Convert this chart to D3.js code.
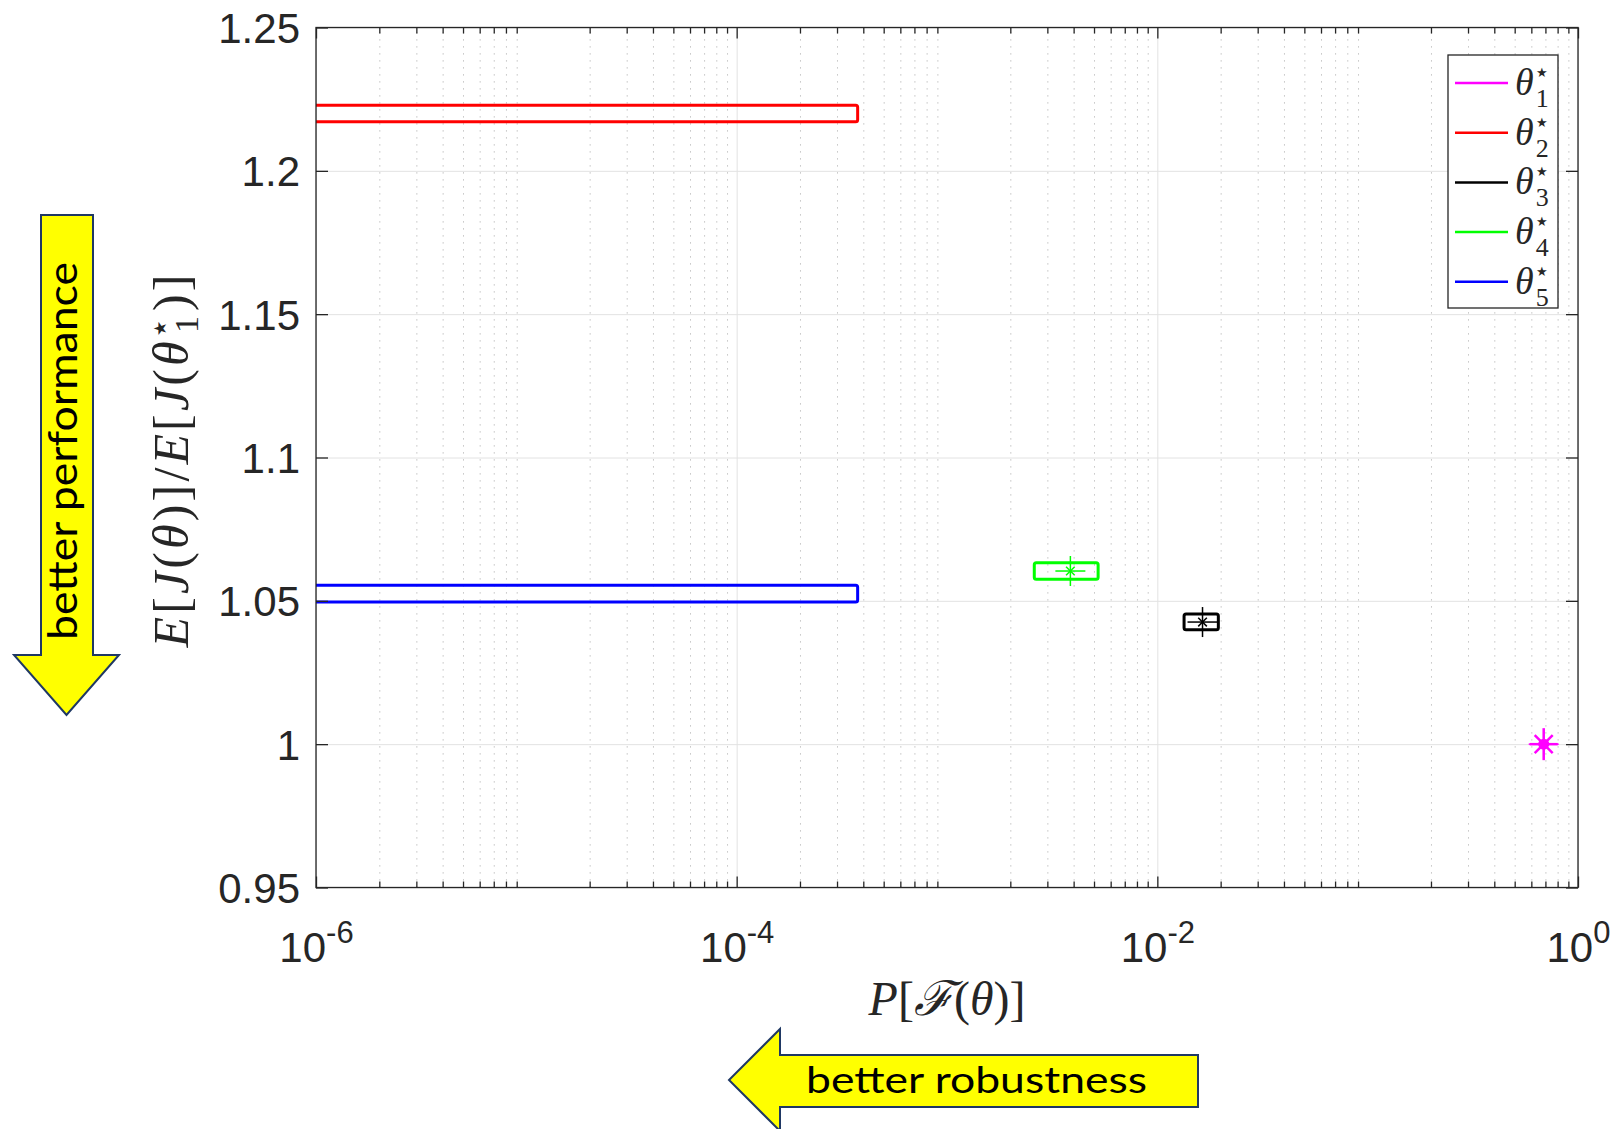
<!DOCTYPE html>
<meta charset="utf-8">
<style>
body { margin: 0; background: #fff; }
svg { font-family: 'Liberation Sans', Arial, sans-serif; background: #fff; }
.tick-label { font-size: 42px; fill: #262626; }
.grid-major line { stroke: #e2e2e2; stroke-width: 1; }
.grid-minor line { stroke: #b5b5b5; stroke-width: 1; stroke-dasharray: 1.2,5.8; }
.grid-major .domain, .grid-minor .domain { display: none; }
.ticks line { stroke: #262626; stroke-width: 1.3; }
.ticks .domain { display: none; }
.frame { fill: none; stroke: #262626; stroke-width: 1.3; }
.math { font-family: 'Liberation Serif', 'Times New Roman', serif; fill: #262626; }
.arrow { fill: #ffff00; stroke: #1f3864; stroke-width: 2; }
.arrow-text { font-family: Lato, 'Open Sans', sans-serif; fill: #000; }
</style>
<svg></svg>
<script src="https://d3js.org/d3.v7.min.js"></script>
<script>

// series: theta*_1 .. theta*_5
var seriesIds = ['1', '2', '3', '4', '5'];
var seriesColors = ['#ff00ff', '#ff0000', '#000000', '#00ff00', '#0000ff'];
// failure probability P[F(theta)] : box limits and centre (0 = below axis)
var probLow  = [0.675, 0, 0.0134, 0.0026, 0];
var probHigh = [0.700, 3.76e-4, 0.0195, 0.00523, 3.76e-4];
var probMid  = [0.687, null, 0.0164, 0.00386, null];
// normalised performance E[J(theta)]/E[J(theta*_1)]
var perfLow  = [0.9995, 1.2171, 1.0399, 1.0575, 1.0496];
var perfHigh = [1.0005, 1.2229, 1.0454, 1.0633, 1.0554];
var perfMid  = [1.0, null, 1.0426, 1.0604, null];

var xTicks = [1e-6, 1e-4, 1e-2, 1];
var xTickExp = ['-6', '-4', '-2', '0'];
var yTicks = [0.95, 1, 1.05, 1.1, 1.15, 1.2, 1.25];
var yTickLabels = ['0.95', '1', '1.05', '1.1', '1.15', '1.2', '1.25'];

var margin = { top: 27.5, left: 316 };
var width = 1262;
var height = 860;

var svg = d3.select('svg')
  .attr('width', 1622)
  .attr('height', 1129);

var g = svg.append('g')
  .attr('transform', 'translate(' + margin.left + ',' + margin.top + ')');

var x = d3.scaleLog().domain([1e-6, 1]).range([0, width]);
var y = d3.scaleLinear().domain([0.95, 1.25]).range([height, 0]);

var minorTicks = [];
for (var e = -6; e < 0; e++) {
  for (var k = 2; k <= 9; k++) minorTicks.push(k * Math.pow(10, e));
}

// grids
g.append('g').attr('class', 'grid-minor')
  .attr('transform', 'translate(0,' + height + ')')
  .call(d3.axisBottom(x).tickValues(minorTicks).tickSize(-height).tickFormat(''));
g.append('g').attr('class', 'grid-major')
  .attr('transform', 'translate(0,' + height + ')')
  .call(d3.axisBottom(x).tickValues(xTicks).tickSize(-height).tickFormat(''));
g.append('g').attr('class', 'grid-major')
  .call(d3.axisLeft(y).tickValues(yTicks).tickSize(-width).tickFormat(''));

// data
g.append('clipPath').attr('id', 'plot-clip')
  .append('rect').attr('width', width).attr('height', height);

var plot = g.append('g').attr('clip-path', 'url(#plot-clip)');

function px(v) { return x(Math.max(v, x.domain()[0] / 10)); }

seriesIds.forEach(function (id, i) {
  var c = seriesColors[i];
  plot.append('rect')
    .attr('x', px(probLow[i]))
    .attr('y', y(perfHigh[i]))
    .attr('width', px(probHigh[i]) - px(probLow[i]))
    .attr('height', y(perfLow[i]) - y(perfHigh[i]))
    .attr('rx', 2)
    .attr('fill', 'none')
    .attr('stroke', c)
    .attr('stroke-width', 3);

  if (probMid[i] != null) {
    var cx = x(probMid[i]), cy = y(perfMid[i]);
    var m = plot.append('g')
      .attr('transform', 'translate(' + cx + ',' + cy + ')')
      .attr('stroke', c);
    var big = 15, small = 6, d = small * 0.72;
    m.append('line').attr('x1', -big).attr('x2', big).attr('stroke-width', 1.5);
    m.append('line').attr('y1', -big).attr('y2', big).attr('stroke-width', 1.5);
    m.append('line').attr('x1', -d).attr('y1', -d).attr('x2', d).attr('y2', d).attr('stroke-width', 1.5);
    m.append('line').attr('x1', -d).attr('y1', d).attr('x2', d).attr('y2', -d).attr('stroke-width', 1.5);
    if (i === 0) {
      // heavier asterisk where the tiny box collapses onto the marker
      var dd = 9;
      m.append('line').attr('x1', -dd).attr('y1', -dd).attr('x2', dd).attr('y2', dd).attr('stroke-width', 2.5);
      m.append('line').attr('x1', -dd).attr('y1', dd).attr('x2', dd).attr('y2', -dd).attr('stroke-width', 2.5);
      m.append('line').attr('x1', -big + 1).attr('x2', big - 1).attr('stroke-width', 2.5);
      m.append('line').attr('y1', -big - 1).attr('y2', big + 1).attr('stroke-width', 2.5);
      m.append('circle').attr('r', 5.5).attr('fill', c).attr('stroke', 'none');
    }
  }
});

// ticks (inside, mirrored)
g.append('g').attr('class', 'ticks')
  .attr('transform', 'translate(0,' + height + ')')
  .call(d3.axisBottom(x).tickValues(minorTicks).tickSize(-6).tickFormat(''));
g.append('g').attr('class', 'ticks')
  .call(d3.axisTop(x).tickValues(minorTicks).tickSize(-6).tickFormat(''));
var gx = g.append('g').attr('class', 'ticks')
  .attr('transform', 'translate(0,' + height + ')')
  .call(d3.axisBottom(x).tickValues(xTicks).tickSize(-11).tickFormat(''));
g.append('g').attr('class', 'ticks')
  .call(d3.axisTop(x).tickValues(xTicks).tickSize(-11).tickFormat(''));
var gy = g.append('g').attr('class', 'ticks')
  .call(d3.axisLeft(y).tickValues(yTicks).tickSize(-12).tickFormat(''));
g.append('g').attr('class', 'ticks')
  .attr('transform', 'translate(' + width + ',0)')
  .call(d3.axisRight(y).tickValues(yTicks).tickSize(-12).tickFormat(''));

g.append('rect').attr('class', 'frame').attr('width', width).attr('height', height);

// tick labels
gx.selectAll('.tick text').remove();
gx.selectAll('.tick').append('text')
  .attr('class', 'tick-label')
  .attr('y', 74.5)
  .attr('text-anchor', 'middle')
  .each(function (d, i) {
    var t = d3.select(this);
    t.append('tspan').text('10');
    t.append('tspan').attr('dy', -19).style('font-size', '31px').text(xTickExp[i]);
  });

gy.selectAll('.tick text').remove();
gy.selectAll('.tick').append('text')
  .attr('class', 'tick-label')
  .attr('x', -16)
  .attr('dy', '0.36em')
  .attr('text-anchor', 'end')
  .text(function (d, i) { return yTickLabels[i]; });

// math labels
function mathText(sel, parts) {
  parts.forEach(function (p) {
    var t = sel.append('tspan').text(p.t);
    if (p.it) t.style('font-style', 'italic');
    if (p.fs) t.style('font-size', p.fs + 'px');
    if (p.dx) t.attr('dx', p.dx);
    if (p.dy) t.attr('dy', p.dy);
  });
}

var yl = svg.append('text')
  .attr('class', 'math')
  .attr('transform', 'translate(188,461) rotate(-90)')
  .attr('text-anchor', 'middle')
  .attr('textLength', 373)
  .attr('lengthAdjust', 'spacing')
  .style('font-size', '50px');
mathText(yl, [
  { t: 'E', it: true }, { t: '[' }, { t: 'J', it: true }, { t: '(' }, { t: 'θ', it: true },
  { t: ')]/' }, { t: 'E', it: true }, { t: '[' }, { t: 'J', it: true }, { t: '(' },
  { t: 'θ', it: true }, { t: '★', fs: 17, dx: 2, dy: -22 }, { t: '1', fs: 34, dx: -15, dy: 32 },
  { t: ')]', dx: 2, dy: -10 }
]);

var xl = svg.append('text')
  .attr('class', 'math')
  .attr('x', margin.left + width / 2)
  .attr('y', 1015)
  .attr('text-anchor', 'middle')
  .style('font-size', '48px');
mathText(xl, [
  { t: 'P', it: true }, { t: '[' }, { t: 'ℱ', it: true }, { t: '(' }, { t: 'θ', it: true }, { t: ')]' }
]);

// legend
var leg = svg.append('g');
leg.append('rect')
  .attr('x', 1448).attr('y', 55).attr('width', 110).attr('height', 253)
  .attr('fill', '#fff').attr('stroke', '#262626').attr('stroke-width', 1.3);
seriesIds.forEach(function (id, i) {
  var ly = 83 + i * 49.7;
  leg.append('line')
    .attr('x1', 1455).attr('x2', 1508).attr('y1', ly).attr('y2', ly)
    .attr('stroke', seriesColors[i]).attr('stroke-width', 2.5);
  var t = leg.append('text').attr('class', 'math')
    .attr('x', 1515).attr('y', ly + 12).style('font-size', '38px');
  mathText(t, [
    { t: 'θ', it: true }, { t: '★', fs: 13, dx: 2, dy: -18 }, { t: id, fs: 26, dx: -12, dy: 30 }
  ]);
});

// annotation arrows
svg.append('path').attr('class', 'arrow')
  .attr('d', 'M41,215H93V655H119L66.5,715L14,655H41Z');
svg.append('text').attr('class', 'arrow-text')
  .attr('transform', 'translate(77,451) rotate(-90)')
  .attr('text-anchor', 'middle')
  .attr('textLength', 378).attr('lengthAdjust', 'spacingAndGlyphs')
  .style('font-size', '40px')
  .text('better performance');

svg.append('path').attr('class', 'arrow')
  .attr('d', 'M1198,1055V1107H780V1131L729,1080L780,1029V1055Z');
svg.append('text').attr('class', 'arrow-text')
  .attr('x', 976.5).attr('y', 1093)
  .attr('text-anchor', 'middle')
  .attr('textLength', 341).attr('lengthAdjust', 'spacingAndGlyphs')
  .style('font-size', '37px')
  .text('better robustness');

</script>
